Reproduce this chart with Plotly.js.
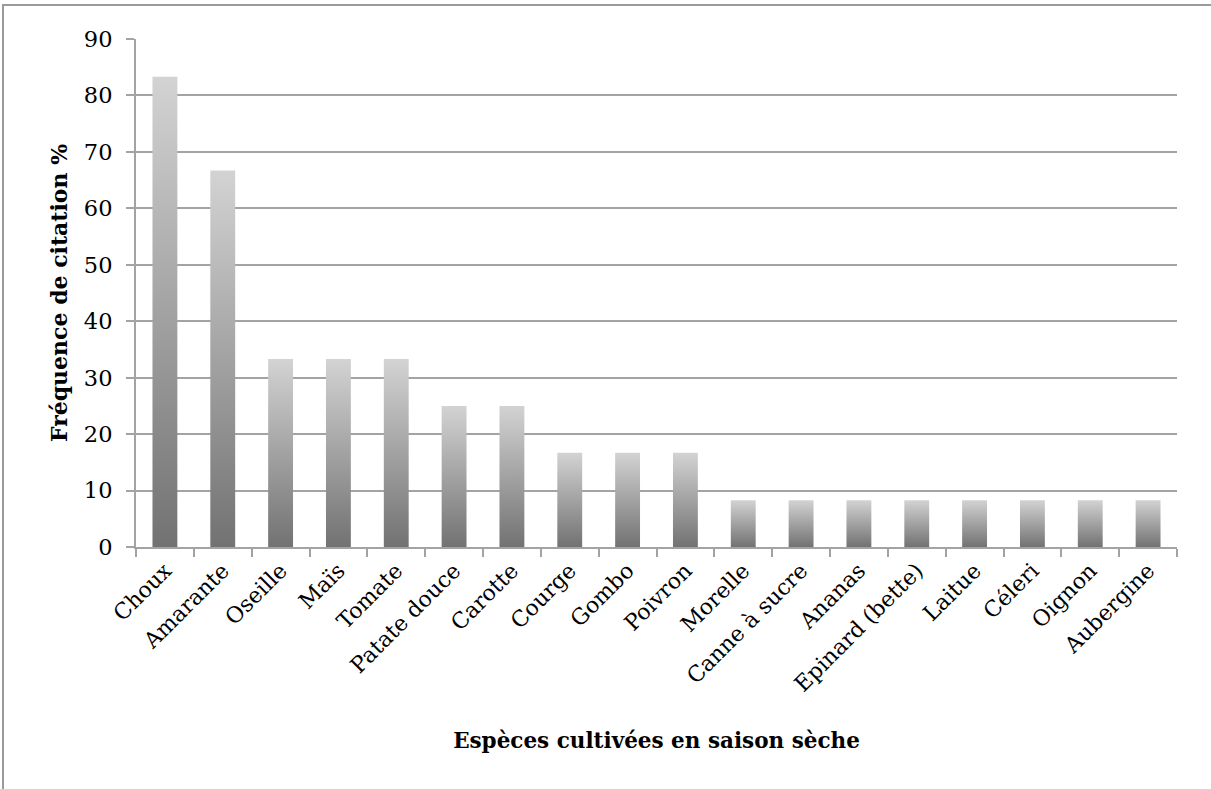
<!DOCTYPE html>
<html>
<head>
<meta charset="utf-8">
<script src="https://cdn.plot.ly/plotly-3.0.1.min.js"></script>
<style>
  html, body { margin: 0; padding: 0; background: #ffffff; }
  #wrap { position: relative; width: 1211px; height: 789px; overflow: hidden; }
  #chart { position: absolute; left: 0; top: 0; width: 1211px; height: 789px; }
  #frame {
    position: absolute; left: 2px; top: 4px; right: -10px; bottom: -10px;
    border-left: 2px solid #9a9a9a; border-top: 2px solid #9a9a9a;
    pointer-events: none;
  }
</style>
</head>
<body>
<div id="wrap">
  <div id="chart"></div>
  <div id="frame"></div>
</div>
<script>
// Species grown in the dry season and how often they were cited (%)
const especes = [
  'Choux', 'Amarante', 'Oseille', 'Maïs', 'Tomate', 'Patate douce',
  'Carotte', 'Courge', 'Gombo', 'Poivron', 'Morelle', 'Canne à sucre',
  'Ananas', 'Epinard (bette)', 'Laitue', 'Céleri', 'Oignon', 'Aubergine'
];
const frequences = [
  83.3, 66.7, 33.3, 33.3, 33.3, 25.0,
  25.0, 16.7, 16.7, 16.7, 8.3, 8.3,
  8.3, 8.3, 8.3, 8.3, 8.3, 8.3
];
const yTicks = [0, 10, 20, 30, 40, 50, 60, 70, 80, 90];

const serif = 'DejaVu Serif, serif';
const gridGrey = '#a3a3a3';

const trace = {
  type: 'bar',
  x: especes,
  y: frequences,
  marker: { color: '#a0a0a0', line: { width: 0 } },
  hoverinfo: 'x+y'
};

const layout = {
  width: 1211,
  height: 789,
  margin: { l: 136, r: 34, t: 39, b: 242 },
  paper_bgcolor: '#ffffff',
  plot_bgcolor: '#ffffff',
  showlegend: false,
  bargap: 0.57,
  font: { family: serif, color: '#000000', size: 22 },
  xaxis: {
    type: 'category',
    tickson: 'boundaries',
    ticks: 'outside',
    ticklen: 8,
    tickwidth: 2,
    tickcolor: gridGrey,
    tickangle: -45,
    showline: true,
    linecolor: gridGrey,
    linewidth: 2,
    showgrid: false,
    zeroline: false,
    tickfont: { family: serif, size: 22, color: '#000000' },
    title: {
      text: '<b>Espèces cultivées en saison sèche</b>',
      font: { family: serif, size: 21.5, color: '#000000' },
      standoff: 37
    },
    automargin: false
  },
  yaxis: {
    range: [0, 90],
    tickvals: yTicks,
    ticktext: yTicks.map(String),
    ticks: 'outside',
    ticklen: 8,
    tickwidth: 2,
    tickcolor: gridGrey,
    ticklabelstandoff: 9,
    showline: true,
    linecolor: gridGrey,
    linewidth: 2,
    showgrid: true,
    gridcolor: gridGrey,
    gridwidth: 2,
    zeroline: false,
    tickfont: { family: serif, size: 22.5, color: '#000000' },
    title: {
      text: '<b>Fréquence de citation %</b>',
      font: { family: serif, size: 22, color: '#000000' },
      standoff: 10
    },
    automargin: false
  }
};

// Shade each bar from dark at its base to light at its top
function shadeBars(gd) {
  const svg = gd.querySelector('svg.main-svg');
  let defs = svg.querySelector('defs');
  if (!defs) {
    defs = document.createElementNS('http://www.w3.org/2000/svg', 'defs');
    svg.insertBefore(defs, svg.firstChild);
  }
  if (!svg.querySelector('#barShade')) {
    const ns = 'http://www.w3.org/2000/svg';
    const grad = document.createElementNS(ns, 'linearGradient');
    grad.setAttribute('id', 'barShade');
    grad.setAttribute('x1', '0'); grad.setAttribute('y1', '1');
    grad.setAttribute('x2', '0'); grad.setAttribute('y2', '0');
    [['0%', '#727272'], ['100%', '#d3d3d3']].forEach(([off, col]) => {
      const s = document.createElementNS(ns, 'stop');
      s.setAttribute('offset', off);
      s.setAttribute('stop-color', col);
      grad.appendChild(s);
    });
    defs.appendChild(grad);
  }
  gd.querySelectorAll('.barlayer .point path').forEach(p => {
    p.style.fill = 'url(#barShade)';
  });
}

const gd = document.getElementById('chart');
Plotly.newPlot(gd, [trace], layout, { displayModeBar: false, responsive: false })
  .then(() => {
    shadeBars(gd);
    gd.on('plotly_afterplot', () => shadeBars(gd));
  });
</script>
</body>
</html>
